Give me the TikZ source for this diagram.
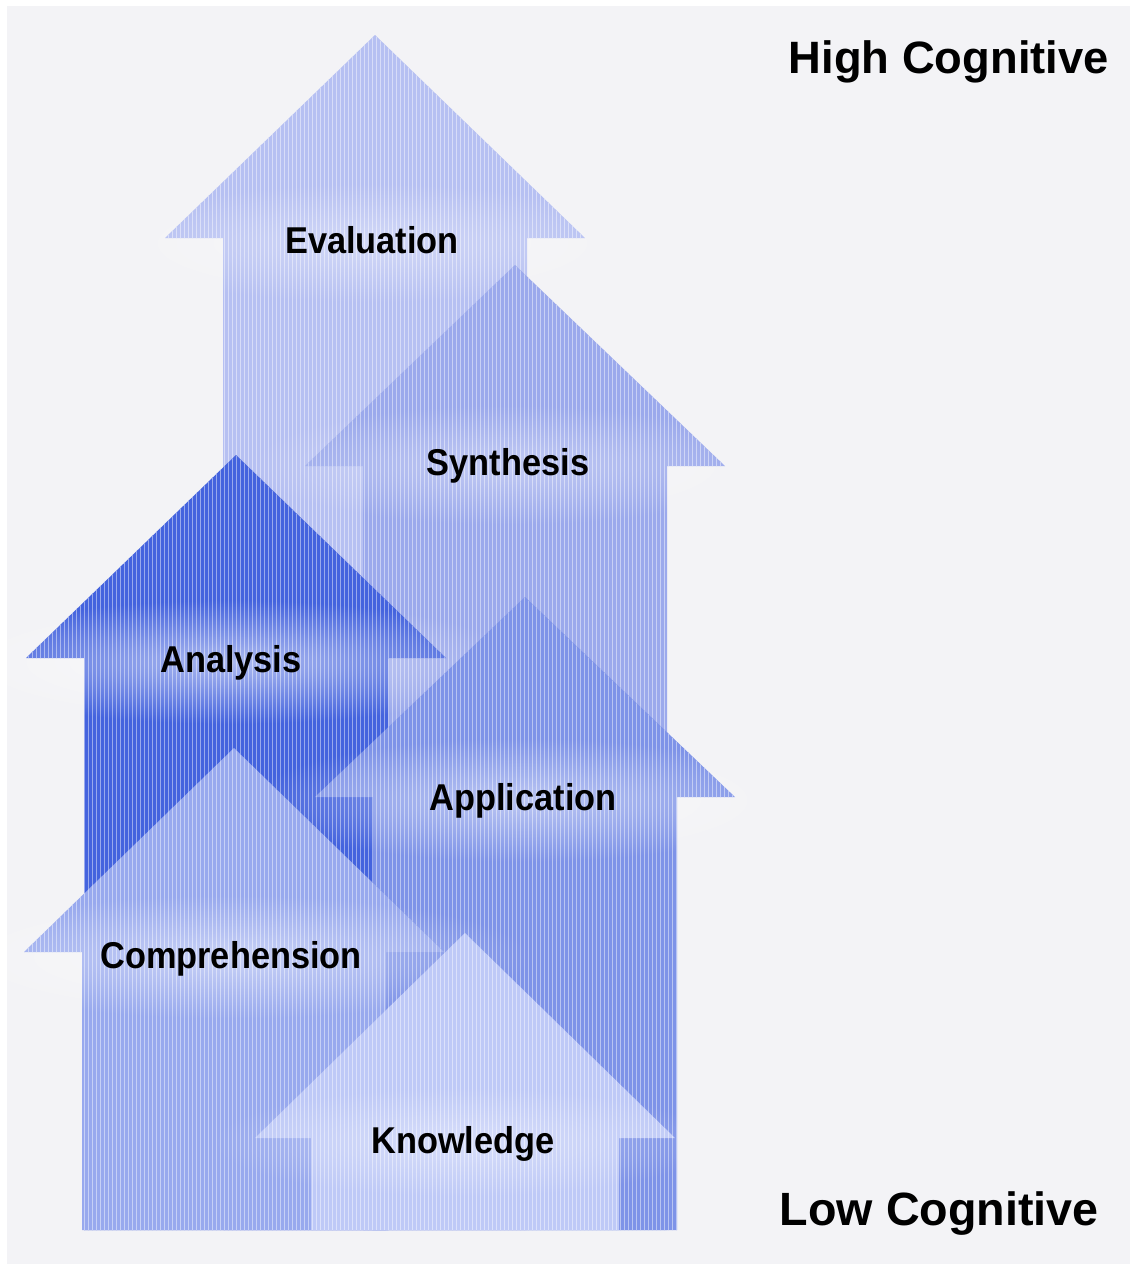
\documentclass[tikz,border=0pt]{standalone}
\usepackage{fontspec}
\setmainfont{Liberation Sans}
\newfontfamily\levelfont{Liberation Sans}[FakeStretch=0.92]
\usepackage{tikz}
\usetikzlibrary{fadings}
\usetikzlibrary{patterns}

\definecolor{paper}{RGB}{243,243,246}
\definecolor{evalblue}{RGB}{182,192,242}
\definecolor{synthblue}{RGB}{155,169,236}
\definecolor{anablue}{RGB}{68,99,222}
\definecolor{applblue}{RGB}{126,147,232}
\definecolor{compblue}{RGB}{152,169,238}
\definecolor{knowblue}{RGB}{190,201,247}

\tikzfading[name=glowfade, inner color=transparent!20, outer color=transparent!100]

\begin{document}
\begin{tikzpicture}[x=0.75pt,y=0.75pt,yscale=-1,xscale=1,
  uparrow/.style={fill=#1, postaction={pattern=vertical lines, pattern color=#1!55!white}},
  glow/.style={fill=white, fill opacity=#1, path fading=glowfade},
  glow/.default=0.6,
  leveltext/.style={anchor=base, inner sep=0.75pt, font=\levelfont\bfseries\fontsize{28}{30}\selectfont},
  sidetext/.style={anchor=base east, inner sep=0.75pt, font=\bfseries\fontsize{#1}{#1}\selectfont}]
\useasboundingbox (0,0) rectangle (1130,1272);
\fill [white] (0,0) rectangle (1130,1272);
\fill [paper] (7,6) rectangle (1130,1264);

%Up Arrow: Evaluation
\fill [uparrow=evalblue] (375,35) -- (585,238) -- (527,238) -- (527,1230) -- (223,1230) -- (223,238) -- (165,238) -- cycle ;
\fill [glow=0.5] (372,243) ellipse (270 and 60) ;
%Up Arrow: Synthesis
\fill [uparrow=synthblue] (515,265) -- (725,466) -- (667,466) -- (667,1230) -- (363,1230) -- (363,466) -- (305,466) -- cycle ;
\fill [glow=0.5] (508,465) ellipse (260 and 60) ;
%Up Arrow: Analysis
\fill [uparrow=anablue] (236,455) -- (446,658) -- (388,658) -- (388,1230) -- (84,1230) -- (84,658) -- (26,658) -- cycle ;
\fill [glow=0.7] (231,662) ellipse (290 and 62) ;
%Up Arrow: Application
\fill [uparrow=applblue] (525,597) -- (735,797) -- (677,797) -- (677,1230) -- (373,1230) -- (373,797) -- (315,797) -- cycle ;
\fill [glow] (523,800) ellipse (270 and 62) ;
%Up Arrow: Comprehension
\fill [uparrow=compblue] (234,748) -- (444,952) -- (386,952) -- (386,1230) -- (82,1230) -- (82,952) -- (24,952) -- cycle ;
\fill [glow] (231,957) ellipse (300 and 62) ;
%Up Arrow: Knowledge
\fill [uparrow=knowblue] (465,933) -- (675,1138) -- (619,1138) -- (619,1230) -- (311,1230) -- (311,1138) -- (255,1138) -- cycle ;
\fill [glow=0.5] (463,1142) ellipse (250 and 55) ;

% Text Node
\node [leveltext] (eval) at (372,253) {Evaluation};
% Text Node
\node [leveltext] (synth) at (508,475) {Synthesis};
% Text Node
\node [leveltext] (ana) at (231,672) {Analysis};
% Text Node
\node [leveltext] (appl) at (523,810) {Application};
% Text Node
\node [leveltext] (comp) at (231,968) {Comprehension};
% Text Node
\node [leveltext] (know) at (463,1153) {Knowledge};
% Text Node
\node [sidetext=34] (high) at (1110,73) {High Cognitive};
% Text Node
\node [sidetext=35] (low) at (1100,1225) {Low Cognitive};

\end{tikzpicture}
\end{document}
